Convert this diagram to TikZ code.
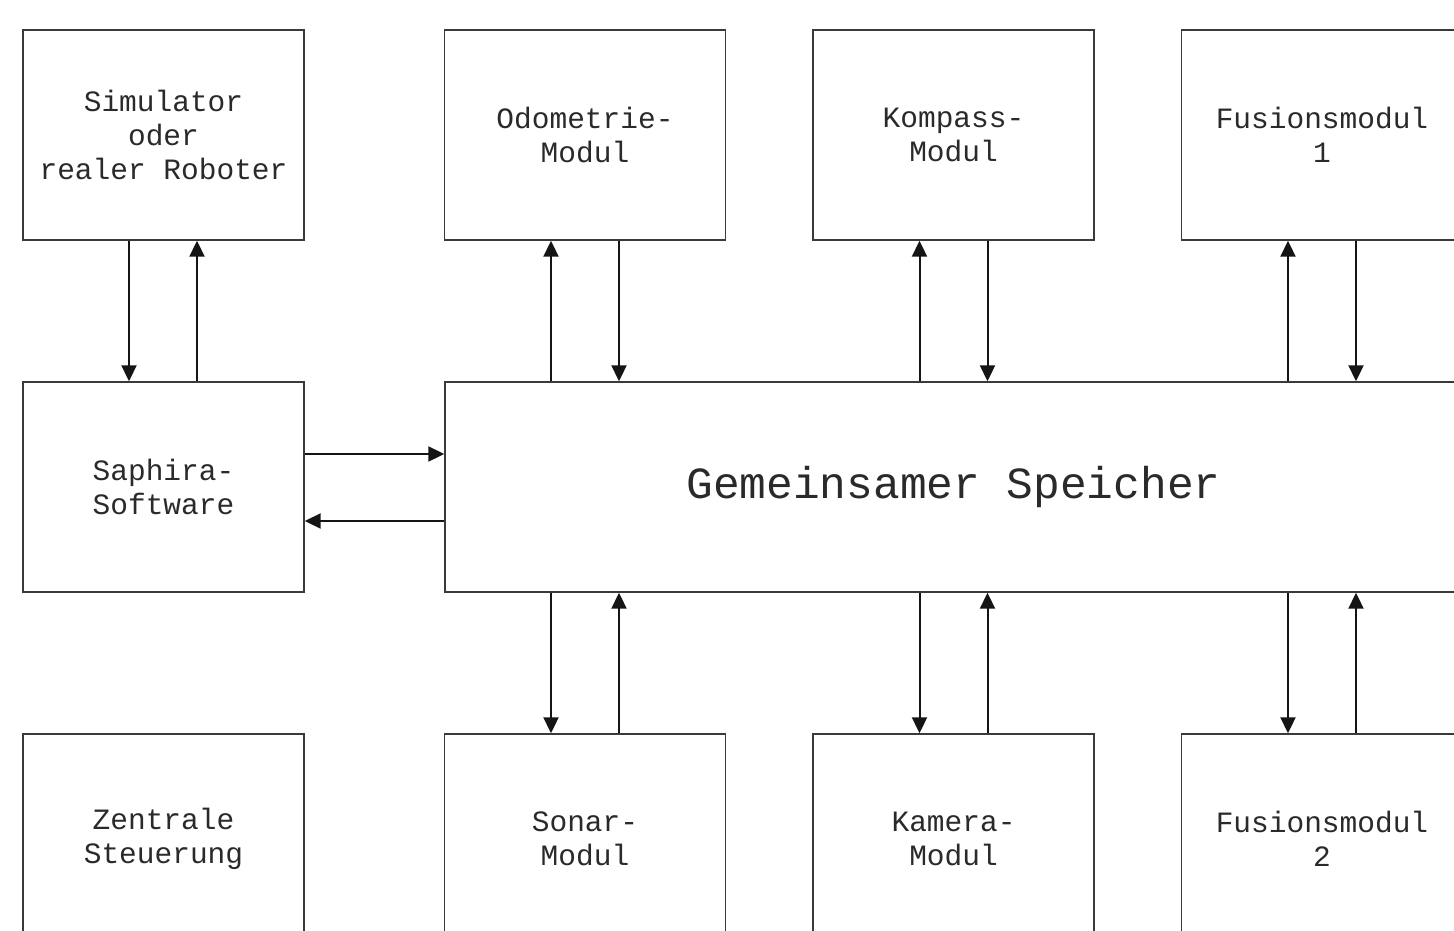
\documentclass[tikz,border=0pt]{standalone}
\usepackage{fontspec}
\setmonofont{Liberation Mono}
\usetikzlibrary{arrows.meta}
\definecolor{boxline}{HTML}{3A3A3A}
\definecolor{txt}{HTML}{2A2A2A}
\definecolor{arrline}{HTML}{151515}
\tikzset{
  box/.style={draw=boxline, line width=1.4pt, rectangle, minimum width=281pt, minimum height=210pt,
    inner sep=0pt, align=center, text=txt, font=\ttfamily\fontsize{29.5}{34}\selectfont},
  arr/.style={draw=arrline, line width=2pt, -{Triangle[length=16pt,width=15pt]}}
}
\begin{document}
\begin{tikzpicture}[x=1pt,y=-1pt]
\useasboundingbox (0,0) rectangle (1454,931);
\clip (0,0) rectangle (1454,931);
\fill[white] (0,0) rectangle (1454,931);
% top row
\node[box] (sim) at (163.5,135) {Simulator\\oder\\realer Roboter};
\node[box] (odo) at (585,135) {Odometrie-\\Modul};
\node[box] (kom) at (953.5,135) {Kompass-\\Modul};
\node[box] (fu1) at (1322,135) {Fusionsmodul\\1};
% middle row
\node[box] (sap) at (163.5,487) {Saphira-\\Software};
\node[box, minimum width=1017pt, font=\ttfamily\fontsize{44.5}{50}\selectfont] (gem) at (953.5,487) {Gemeinsamer Speicher};
% bottom row
\node[box] (zen) at (163.5,839) {Zentrale\\Steuerung};
\node[box] (son) at (585,839) {Sonar-\\Modul};
\node[box] (kam) at (953.5,839) {Kamera-\\Modul};
\node[box] (fu2) at (1322,839) {Fusionsmodul\\2};
% simulator <-> saphira
\draw[arr] ([xshift=-34.5pt]sim.south) -- ([xshift=-34.5pt]sim.south |- sap.north);
\draw[arr] ([xshift=33.5pt]sim.south |- sap.north) -- ([xshift=33.5pt]sim.south);
% top modules <-> memory
\foreach \m in {odo,kom,fu1}{
  \draw[arr] ([xshift=-34pt]\m.south |- gem.north) -- ([xshift=-34pt]\m.south);
  \draw[arr] ([xshift=34pt]\m.south) -- ([xshift=34pt]\m.south |- gem.north);
}
% bottom modules <-> memory
\foreach \m in {son,kam,fu2}{
  \draw[arr] ([xshift=-34pt]\m.north |- gem.south) -- ([xshift=-34pt]\m.north);
  \draw[arr] ([xshift=34pt]\m.north) -- ([xshift=34pt]\m.north |- gem.south);
}
% saphira <-> memory
\draw[arr] ([yshift=33pt]sap.east) -- ([yshift=33pt]sap.east -| gem.west);
\draw[arr] ([yshift=-34pt]sap.east -| gem.west) -- ([yshift=-34pt]sap.east);
\end{tikzpicture}
\end{document}
